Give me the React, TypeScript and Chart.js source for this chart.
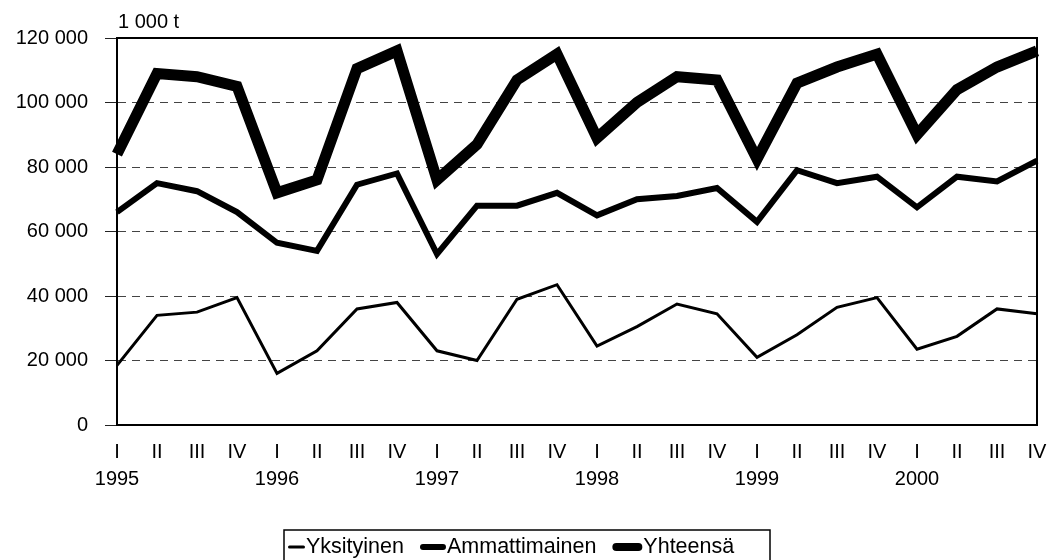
import React, { useEffect, useRef } from "react";
import { Chart, registerables } from "chart.js";

Chart.register(...registerables);

const quarters = ["I", "II", "III", "IV"];
const years = ["1995", "1996", "1997", "1998", "1999", "2000"];
const unitLabel = "1 000 t";
const yTicks = [0, 20000, 40000, 60000, 80000, 100000, 120000];

const yksityinen = [
  18500, 34000, 35000, 39500, 16000, 23000, 36000, 38000, 23000, 20000, 39000, 43500,
  24500, 30500, 37500, 34500, 21000, 28000, 36500, 39500, 23500, 27500, 36000, 34500,
];
const ammattimainen = [
  66000, 75000, 72500, 66000, 56500, 54000, 74500, 78000, 53000, 68000, 68000, 72000,
  65000, 70000, 71000, 73500, 63000, 79000, 75000, 77000, 67500, 77000, 75500, 82000,
];
const yhteensa = [
  84000, 109000, 108000, 105000, 72000, 76000, 110500, 116000, 76000, 87000, 107000, 115000,
  89000, 100000, 108000, 107000, 82500, 106000, 111000, 115000, 90000, 104000, 111000, 116000,
];

const seriesNames = ["Yksityinen", "Ammattimainen", "Yhteensä"];

const FONT = "'Liberation Sans', Arial, sans-serif";

const labels = years.flatMap((y) => quarters.map((q, i) => (i === 0 ? [q, y] : [q, ""])));

const fmt = (v: number) => String(v).replace(/\B(?=(\d{3})+(?!\d))/g, " ");

const framePlugin = {
  id: "frame",
  beforeDatasetsDraw(chart: any) {
    const { ctx, chartArea } = chart;
    ctx.save();
    ctx.strokeStyle = "#000";
    ctx.lineWidth = 2;
    ctx.strokeRect(chartArea.left, chartArea.top, chartArea.right - chartArea.left, chartArea.bottom - chartArea.top);
    ctx.restore();
  },
  afterDraw(chart: any) {
    const { ctx, chartArea } = chart;
    ctx.save();
    ctx.fillStyle = "#000";
    ctx.font = `20px ${FONT}`;
    ctx.textAlign = "left";
    ctx.textBaseline = "middle";
    ctx.fillText(unitLabel, chartArea.left + 1, 22);

    const boxLeft = 284;
    const boxTop = 530;
    const boxRight = 770;
    ctx.strokeStyle = "#000";
    ctx.lineWidth = 1.5;
    ctx.strokeRect(boxLeft, boxTop, boxRight - boxLeft, 40);

    const sampleLens = [17, 26, 30];
    ctx.font = `21.5px ${FONT}`;
    let x = boxLeft + 4;
    const cy = 547;
    chart.data.datasets.forEach((ds: any, i: number) => {
      ctx.beginPath();
      ctx.lineWidth = Math.min(ds.borderWidth, 8);
      ctx.lineCap = "round";
      const half = ctx.lineWidth / 2;
      ctx.moveTo(x + half, cy);
      ctx.lineTo(x + sampleLens[i] - half, cy);
      ctx.stroke();
      x += sampleLens[i] + 1;
      ctx.fillText(ds.label, x, cy);
      x += ctx.measureText(ds.label).width + 16;
    });
    ctx.restore();
  },
};

export default function App() {
  const ref = useRef<HTMLCanvasElement | null>(null);

  useEffect(() => {
    document.body.style.margin = "0";
    if (!ref.current) return;
    const chart = new Chart(ref.current, {
      type: "line",
      data: {
        labels,
        datasets: [
          { label: seriesNames[0], data: yksityinen, borderColor: "#000", borderWidth: 3 },
          { label: seriesNames[1], data: ammattimainen, borderColor: "#000", borderWidth: 6 },
          { label: seriesNames[2], data: yhteensa, borderColor: "#000", borderWidth: 11 },
        ].map((d) => ({
          ...d,
          pointRadius: 0,
          pointHoverRadius: 0,
          tension: 0,
          fill: false,
          borderJoinStyle: "miter" as const,
          borderCapStyle: "butt" as const,
        })),
      },
      options: {
        responsive: false,
        animation: false,
        layout: { padding: { top: 38, right: 11, left: 0, bottom: 0 } },
        plugins: {
          legend: { display: false },
          tooltip: { enabled: false },
          title: { display: false },
        },
        scales: {
          x: {
            offset: false,
            grid: { display: false, drawTicks: false },
            border: { display: true, color: "#000", width: 2 },
            ticks: {
              autoSkip: false,
              maxRotation: 0,
              minRotation: 0,
              padding: 14,
              color: "#000",
              font: { family: FONT, size: 20, lineHeight: 1.35 },
            },
            afterFit(scale: any) {
              scale.height = 135;
              scale.paddingLeft = 0;
              scale.paddingRight = 0;
            },
          },
          y: {
            min: 0,
            max: 120000,
            afterBuildTicks(scale: any) {
              scale.ticks = yTicks.map((v) => ({ value: v }));
            },
            grid: {
              color: "#444",
              lineWidth: 1,
              tickLength: 12,
              tickColor: "#222",
              tickBorderDash: [],
            },
            border: { display: true, color: "#000", width: 2, dash: [8, 6] },
            ticks: {
              padding: 17,
              color: "#000",
              font: { family: FONT, size: 20 },
              callback: (v: any) => fmt(Number(v)),
            },
            afterFit(scale: any) {
              scale.width = 117;
              scale.paddingTop = 0;
              scale.paddingBottom = 0;
            },
          },
        },
      },
      plugins: [framePlugin],
    });
    return () => chart.destroy();
  }, []);

  return (
    <div style={{ width: 1048, height: 560 }}>
      <canvas ref={ref} width={1048} height={560} />
    </div>
  );
}
